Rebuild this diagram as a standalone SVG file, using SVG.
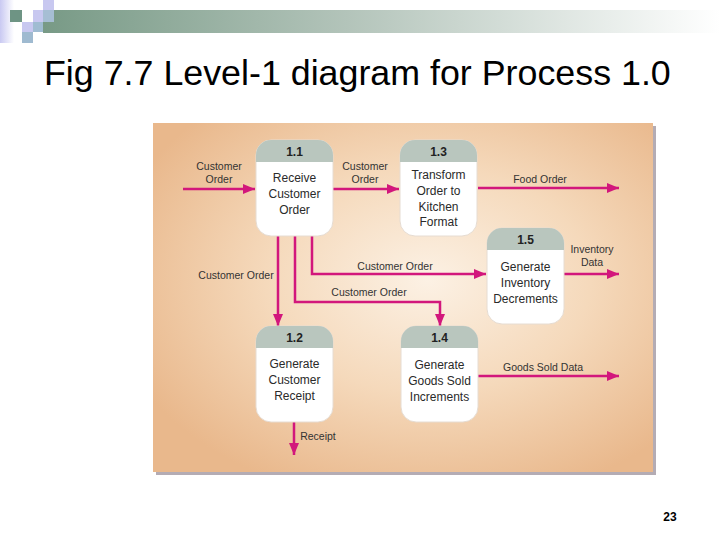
<svg xmlns="http://www.w3.org/2000/svg" xmlns:xlink="http://www.w3.org/1999/xlink" width="720" height="540" viewBox="0 0 720 540">
<defs>
<linearGradient id="bar" x1="0" y1="0" x2="1" y2="0">
<stop offset="0" stop-color="#789a86"/>
<stop offset="0.45" stop-color="#b3c4ba"/>
<stop offset="1" stop-color="#ffffff"/>
</linearGradient>
<linearGradient id="lav" x1="0" y1="0" x2="1" y2="0">
<stop offset="0" stop-color="#c9c9f2"/>
<stop offset="1" stop-color="#ffffff"/>
</linearGradient>
<radialGradient id="panel" cx="0.55" cy="0.45" r="0.65">
<stop offset="0" stop-color="#fcf1e4"/>
<stop offset="0.5" stop-color="#f5d9bb"/>
<stop offset="1" stop-color="#e9b88c"/>
</radialGradient>
<marker id="ah" viewBox="0 0 12 10" refX="12" refY="5" markerWidth="12" markerHeight="10" markerUnits="userSpaceOnUse" orient="auto">
<path d="M0,0 L12,5 L0,10 Z" fill="#d2177c"/>
</marker>
<g id="proc">
<rect x="0" y="0" width="77" height="96" rx="15" ry="15" fill="#ffffff" stroke="#e6dcd2" stroke-width="1"/>
<path d="M0,22 V15 A15,15 0 0 1 15,0 H62 A15,15 0 0 1 77,15 V22 Z" fill="#b9c6be"/>
</g>
</defs>
<style>
.t{font-family:"Liberation Sans",Arial,sans-serif;fill:#2a2a2a;font-size:12px;text-anchor:middle}
.n{font-family:"Liberation Sans",Arial,sans-serif;fill:#222;font-size:12px;font-weight:bold;text-anchor:middle}
.l{font-family:"Liberation Sans",Arial,sans-serif;fill:#333;font-size:10.5px;text-anchor:middle}
.f{fill:none;stroke:#d2177c;stroke-width:2.5;marker-end:url(#ah)}
</style>
<rect width="720" height="540" fill="#ffffff"/>
<!-- banner -->
<rect x="43" y="10" width="677" height="23" fill="url(#bar)"/>
<rect x="0" y="0" width="14" height="43" fill="url(#lav)"/>
<rect x="10" y="10" width="12" height="12" fill="#6e9484"/>
<rect x="22" y="22" width="11" height="10" fill="#c8c8f0"/>
<rect x="22" y="32" width="11" height="11" fill="#9fbad0"/>
<rect x="33" y="10" width="10" height="12" fill="#c8c8f0"/>
<rect x="33" y="22" width="10" height="10" fill="#a0bcd2"/>
<rect x="43" y="0" width="11" height="10" fill="#c8c8f0"/>
<rect x="43" y="10" width="11" height="12" fill="#a6bed4"/>
<text x="44" y="85" font-family="'Liberation Sans',Arial,sans-serif" font-size="35.8" fill="#000">Fig 7.7 Level-1 diagram for Process 1.0</text>
<!-- panel -->
<rect x="156" y="126" width="500" height="349" fill="#b4acb4"/>
<rect x="153" y="123" width="500" height="349" fill="url(#panel)"/>
<!-- connectors -->
<g id="connectors">
<path class="f" d="M183,189 H255"/>
<path class="f" d="M333,189 H399"/>
<path class="f" d="M478,188 H619"/>
<path class="f" d="M564,274 H619"/>
<path class="f" d="M312,236 V274 H486"/>
<path class="f" d="M295,236 V302 H440 V326"/>
<path class="f" d="M278,236 V326"/>
<path class="f" d="M478,376 H619"/>
<path class="f" d="M294,422 V455"/>
<text class="l" x="219" y="170">Customer</text>
<text class="l" x="219" y="183">Order</text>
<text class="l" x="365" y="170">Customer</text>
<text class="l" x="365" y="183">Order</text>
<text class="l" x="540" y="183">Food Order</text>
<text class="l" x="592" y="253">Inventory</text>
<text class="l" x="592" y="266">Data</text>
<text class="l" x="395" y="270">Customer Order</text>
<text class="l" x="369" y="296">Customer Order</text>
<text class="l" x="236" y="279">Customer Order</text>
<text class="l" x="543" y="371">Goods Sold Data</text>
<text class="l" x="318" y="440">Receipt</text>
</g>
<!-- nodes -->
<g id="n11" transform="translate(256,140)">
<use xlink:href="#proc"/>
<text class="n" x="38.5" y="16">1.1</text>
<text class="t" x="38.5" y="42">Receive</text>
<text class="t" x="38.5" y="58">Customer</text>
<text class="t" x="38.5" y="74">Order</text>
</g>
<g id="n13" transform="translate(400,140)">
<use xlink:href="#proc"/>
<text class="n" x="38.5" y="16">1.3</text>
<text class="t" x="38.5" y="39">Transform</text>
<text class="t" x="38.5" y="55">Order to</text>
<text class="t" x="38.5" y="71">Kitchen</text>
<text class="t" x="38.5" y="86">Format</text>
</g>
<g id="n15" transform="translate(487,228)">
<use xlink:href="#proc"/>
<text class="n" x="38.5" y="16">1.5</text>
<text class="t" x="38.5" y="43">Generate</text>
<text class="t" x="38.5" y="59">Inventory</text>
<text class="t" x="38.5" y="75">Decrements</text>
</g>
<g id="n12" transform="translate(256,326)">
<use xlink:href="#proc"/>
<text class="n" x="38.5" y="16">1.2</text>
<text class="t" x="38.5" y="42">Generate</text>
<text class="t" x="38.5" y="58">Customer</text>
<text class="t" x="38.5" y="74">Receipt</text>
</g>
<g id="n14" transform="translate(401,326)">
<use xlink:href="#proc"/>
<text class="n" x="38.5" y="16">1.4</text>
<text class="t" x="38.5" y="43">Generate</text>
<text class="t" x="38.5" y="59">Goods Sold</text>
<text class="t" x="38.5" y="75">Increments</text>
</g>
<text x="670" y="521" font-family="'Liberation Sans',Arial,sans-serif" font-size="12" font-weight="bold" fill="#000" text-anchor="middle">23</text>
</svg>
